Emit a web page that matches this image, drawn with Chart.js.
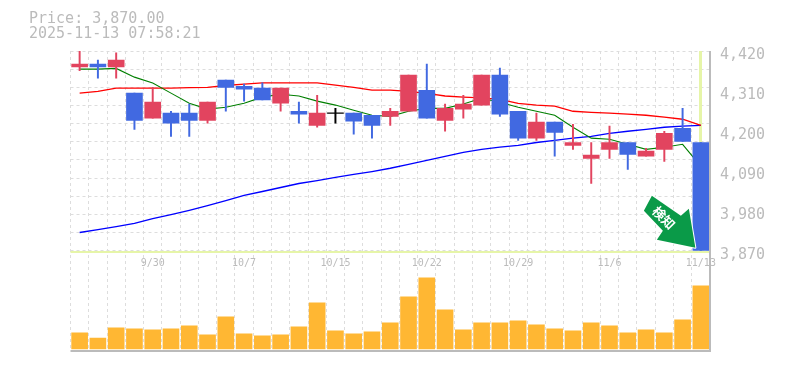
<!DOCTYPE html>
<html><head><meta charset="utf-8">
<style>html,body{margin:0;padding:0;background:#fff}canvas{display:block}</style>
<script src="https://cdn.jsdelivr.net/npm/chart.js@4"></script></head>
<body><div style="width:785px;height:370px"><canvas id="c" width="785" height="370"></canvas></div>
<script>
const dates=['9/24','9/25','9/26','9/29','9/30','10/1','10/2','10/3','10/6','10/7','10/8','10/9','10/10','10/14','10/15','10/16','10/17','10/20','10/21','10/22','10/23','10/24','10/27','10/28','10/29','10/30','10/31','11/4','11/5','11/6','11/7','11/10','11/11','11/12','11/13'];
const labelled=['9/30','10/7','10/15','10/22','10/29','11/6','11/13'];
const open=[4376,4384,4376,4304,4235,4249,4249,4229,4340,4323,4318,4276,4254,4215,4249,4249,4243,4240,4254,4312,4229,4260,4271,4354,4254,4180,4224,4160,4124,4149,4168,4130,4149,4207,4168];
const close=[4384,4376,4395,4229,4279,4221,4229,4279,4320,4315,4285,4318,4246,4249,4249,4227,4215,4254,4354,4235,4262,4274,4354,4246,4180,4224,4196,4168,4133,4168,4135,4144,4193,4171,3870];
const low=[4366,4345,4345,4204,4235,4185,4185,4221,4254,4282,4285,4254,4221,4210,4221,4191,4180,4215,4254,4235,4199,4235,4271,4240,4174,4174,4130,4149,4055,4124,4094,4130,4116,4171,3870];
const high=[4420,4395,4415,4304,4320,4254,4274,4279,4340,4329,4332,4318,4279,4298,4262,4249,4243,4262,4354,4384,4274,4298,4354,4373,4254,4249,4224,4218,4168,4213,4168,4152,4199,4262,4168];
const maShort=[4370,4370,4372,4348,4332,4304,4276,4260,4265,4276,4293,4301,4296,4282,4271,4257,4243,4240,4254,4262,4262,4274,4290,4279,4265,4254,4243,4210,4180,4177,4163,4149,4155,4163,4102];
const maMid=[4304,4309,4318,4318,4318,4318,4319,4320,4325,4329,4332,4332,4332,4332,4326,4320,4312,4312,4309,4303,4296,4293,4291,4287,4276,4271,4268,4254,4251,4249,4246,4243,4238,4232,4215];
const maLong=[3920,3928,3936,3945,3958,3969,3981,3994,4008,4022,4033,4044,4055,4063,4072,4080,4088,4097,4108,4119,4130,4141,4149,4155,4160,4168,4174,4180,4185,4193,4199,4204,4210,4213,4215];
const volume=[160,110,210,200,190,200,230,140,320,150,130,140,220,460,180,150,170,260,520,710,390,190,260,260,280,240,200,180,260,230,160,190,160,290,630];
const priceTicks=[4420,4310,4200,4090,3980,3870];
const priceGrid=[4420,4370,4320,4270,4220,4170,4120,4070,4020,3970,3920,3870];
const priceTitle='Price: 3,870.00';
const timeTitle='2025-11-13 07:58:21';
const badgeText='検知';
const UP='#E2445F',DOWN='#4169E1',DOJI='#000000',GRID='#dddddd',TXT='#bbbbbb',HL='#e6f5a8';
const col=(i)=>close[i]>open[i]?UP:close[i]<open[i]?DOWN:DOJI;
const colors=dates.map((_,i)=>col(i));
const mono='"DejaVu Sans Mono", monospace';

const overlay={id:'overlay',
 beforeDatasetsDraw(ch){const {ctx,chartArea:a,scales:{x,y}}=ch;ctx.save();
  const py=Math.round(y.getPixelForValue(close[close.length-1]));
  const px=x.getPixelForValue(dates.length-1);
  ctx.fillStyle=HL;ctx.fillRect(a.left,py,a.right-a.left,2);
  ctx.fillRect(Math.round(px)-2,a.top,3,py-a.top);
  ctx.restore();},
 afterDraw(ch){const {ctx,chartArea:a,scales:{x,y}}=ch;ctx.save();
  ctx.fillStyle='#bbbbbb';ctx.fillRect(a.right-1,a.top,2,a.bottom-a.top+2);ctx.fillRect(a.left,a.bottom,a.right-a.left+1,2);
  ctx.font='15px '+mono;ctx.fillStyle=TXT;ctx.textBaseline='middle';ctx.textAlign='left';
  ctx.fillText(priceTitle,29,19);ctx.fillText(timeTitle,29,34);
  const tx=x.getPixelForValue(dates.length-1),ty=y.getPixelForValue(close[close.length-1]);
  ctx.translate(tx,ty);
  const pts=[[-5.5,-3],[-44,-11],[-38,-20],[-57,-40],[-49,-55],[-20,-35],[-12,-42]];
  ctx.beginPath();pts.forEach((p,i)=>i?ctx.lineTo(p[0],p[1]):ctx.moveTo(p[0],p[1]));ctx.closePath();
  ctx.lineJoin='round';ctx.lineWidth=2;ctx.strokeStyle='#fff';ctx.stroke();
  ctx.fillStyle='#0A9A48';ctx.fill();
  ctx.translate(-37,-33);ctx.rotate(Math.PI/4);ctx.font='bold 13px "Noto Sans CJK JP"';ctx.fillStyle='#fff';ctx.textAlign='center';
  ctx.fillText(badgeText,0,0);
  ctx.restore();}
};
new Chart(document.getElementById('c'),{
 data:{labels:dates,datasets:[
  {type:'line',data:maLong,borderColor:'#0000ff',borderWidth:1.3,pointRadius:0,yAxisID:'y',order:10,tension:0},
  {type:'line',data:maMid,borderColor:'#ff0000',borderWidth:1.3,pointRadius:0,yAxisID:'y',order:9,tension:0},
  {type:'line',data:maShort,borderColor:'#007f00',borderWidth:1.1,pointRadius:0,yAxisID:'y',order:8,tension:0},
  {type:'bar',data:low.map((l,i)=>[l,high[i]]),backgroundColor:colors,barThickness:1.3,grouped:false,yAxisID:'y',order:2},
  {type:'bar',data:open.map((o,i)=>o===close[i]?[o-1,o+1]:[o,close[i]]),backgroundColor:colors,barThickness:16,grouped:false,yAxisID:'y',order:1},
  {type:'bar',data:volume,backgroundColor:'#FFB733',barThickness:16,grouped:false,yAxisID:'v',order:6}
 ]},
 options:{responsive:false,animation:false,events:[],
  layout:{padding:{left:70.5,right:0,top:51,bottom:20}},
  plugins:{legend:{display:false},tooltip:{enabled:false},title:{display:false}},
  scales:{
   x:{type:'category',offset:true,position:{y:3870},
    grid:{offset:true,color:GRID,lineWidth:1,tickLength:0,drawTicks:false},border:{display:true,dash:[3,3],color:'transparent'},
    ticks:{autoSkip:false,maxRotation:0,padding:7,color:TXT,font:{family:mono,size:10},callback(v){const l=this.getLabelForValue(v);return labelled.includes(l)?l:'';}}},
   y:{position:'right',stack:'panes',stackWeight:199,min:3870,max:4420,
    afterBuildTicks(s){const u=[...new Set([...priceGrid,...priceTicks])].sort((a,b)=>a-b);s.ticks=u.map(value=>({value}));},
    afterFit(s){s.width=75;},
    grid:{drawTicks:false,color:c=>priceGrid.includes(c.tick.value)?GRID:'transparent'},border:{display:false,dash:[3,3]},
    ticks:{autoSkip:false,padding:10,color:TXT,font:{family:mono,size:15,lineHeight:'9px'},z:1,
     callback(v){return priceTicks.includes(v)?['',v.toLocaleString('en-US')]:'';}}},
   v:{position:'right',stack:'panes',stackWeight:99,min:-10,max:980,display:true,
    afterFit(s){s.width=75;},
    grid:{display:false},border:{display:false},ticks:{display:false}}
  }}
 ,plugins:[overlay]});
</script></body></html>
